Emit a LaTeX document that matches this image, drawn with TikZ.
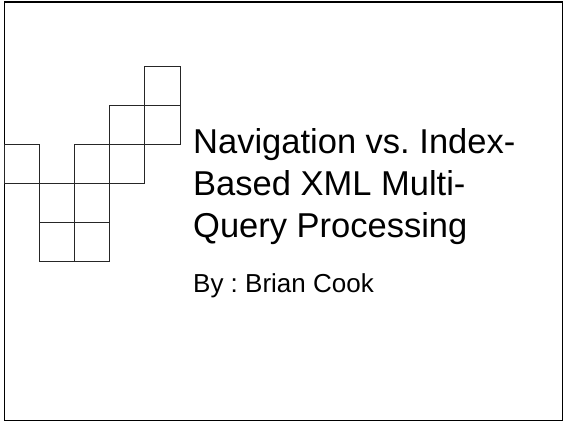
\documentclass[tikz,border=0pt]{standalone}
\usepackage{fontspec}
\setmainfont{Liberation Sans}
\usepackage{tikz}
\frenchspacing
\tikzstyle{cell} = [draw=black!85, line width=0.9pt]
\tikzstyle{frame} = [draw=black, line width=1.8pt]
\tikzstyle{note} = [draw=none, inner sep=0, align=left]

\begin{document}
\begin{tikzpicture}[x=1pt, y=-1pt]
		\useasboundingbox (0,0) rectangle (564,422);
		\draw[frame] (4.5,2) rectangle (562.5,420.5);
		
		% staircase of boxes
		\foreach \c/\r in {0/2,1/3,1/4,2/2,2/3,2/4,3/1,3/2,4/0,4/1}
		\draw[cell] (4.5+35.1*\c,66+39*\r) rectangle ++(35.1,39);
		
		\node[note, anchor=north west, font=\fontsize{34.5}{42}\selectfont] (title) at (193,128)
		{Navigation vs. Index-\\Based XML Multi-\\Query Processing};
		\node[note, anchor=base west, font=\fontsize{26}{30}\selectfont] (author) at (193,292)
		{By : Brian Cook};
	\end{tikzpicture}
\end{document}
